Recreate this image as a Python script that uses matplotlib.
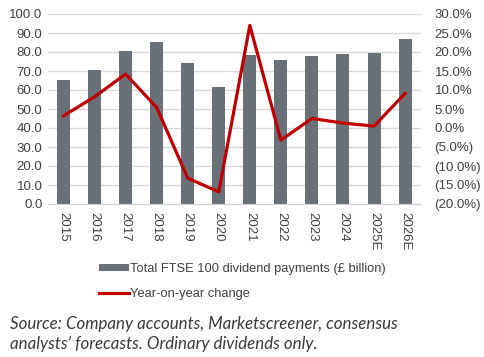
import matplotlib
matplotlib.use("Agg")
import matplotlib.pyplot as plt
from matplotlib.ticker import FuncFormatter, MultipleLocator

years = ["2015", "2016", "2017", "2018", "2019", "2020", "2021", "2022", "2023", "2024", "2025E", "2026E"]
dividends = [65.5, 70.5, 80.5, 85.2, 74.0, 61.8, 78.4, 76.0, 77.8, 78.8, 79.4, 86.8]
yoy_change = [3.2, 8.2, 14.2, 5.4, -13.2, -16.8, 27.0, -3.2, 2.5, 1.3, 0.5, 9.1]

plt.rcParams['font.family'] = ['Liberation Sans', 'DejaVu Sans']

fig = plt.figure(figsize=(4.85, 3.57), dpi=100)
ax = fig.add_axes([48/485, 1 - 204/357, (420.6-48)/485, (204-14)/357])
x = list(range(len(years)))
bars = ax.bar(x, dividends, width=0.42, color='#6a7078', zorder=2)
ax.set_ylim(0, 100)
ax.set_xlim(-0.5, len(years) - 0.5)
ax.yaxis.set_major_locator(MultipleLocator(10))
ax.yaxis.set_major_formatter(FuncFormatter(lambda v, p: f"{v:.1f}"))
ax.grid(axis='y', color='#d9d9d9', linewidth=1.0, zorder=0)
for s in ax.spines.values():
    s.set_visible(False)
ax.spines['bottom'].set_visible(True)
ax.spines['bottom'].set_color('#d0d0d0')
ax.tick_params(axis='both', length=0, labelsize=9.5, colors='#404040', pad=4)
ax.tick_params(axis='x', pad=6)
ax.set_xticks(x)
ax.set_xticklabels(years, rotation=-90)

ax2 = ax.twinx()
line, = ax2.plot(x, yoy_change, color='#c00000', linewidth=2.3, zorder=3)
ax2.set_ylim(-20, 30)
ax2.yaxis.set_major_locator(MultipleLocator(5))
ax2.yaxis.set_major_formatter(FuncFormatter(lambda v, p: f"{v:.1f}%" if v >= 0 else f"({-v:.1f}%)"))
for s in ax2.spines.values():
    s.set_visible(False)
ax2.tick_params(axis='y', length=0, labelsize=9.5, colors='#404040', pad=10)
for lbl in ax2.get_yticklabels():
    lbl.set_horizontalalignment('left')

fig.legend([bars, line], ['Total FTSE 100 dividend payments (£ billion)', 'Year-on-year change'],
           loc='upper left', bbox_to_anchor=(99/485, 1 - 263/357), frameon=False,
           fontsize=9.3, handlelength=2.35, handleheight=0.5, handletextpad=0.05, labelspacing=1.0,
           labelcolor='#404040', borderaxespad=0, borderpad=0)

fig.text(10/485, 1 - 334/357, "Source: Company accounts, Marketscreener, consensus\nanalysts\u2019 forecasts. Ordinary dividends only.",
         fontsize=12.2, style='italic', family=['Lato', 'DejaVu Sans'],
         color='#3a3a3a', va='center', ha='left', linespacing=1.3)

fig.savefig('out.png', dpi=100)
